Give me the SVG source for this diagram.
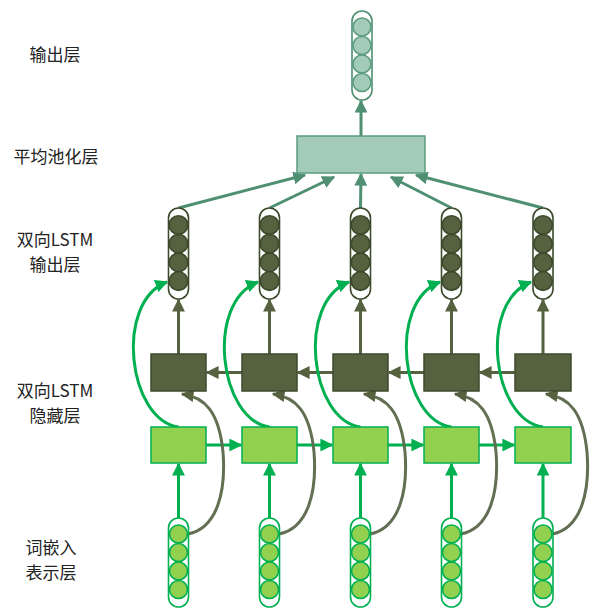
<svg xmlns="http://www.w3.org/2000/svg" width="595" height="609" viewBox="0 0 595 609">
<defs>
<style>
.lbl{font-family:"Noto Sans CJK SC","Liberation Sans",sans-serif;font-size:17px;fill:#222;text-anchor:middle}
.cap{fill:#fff;stroke-width:1.6}
.capIn{stroke:#00b050}.cIn{fill:#92d050;stroke:#00b050;stroke-width:1.6}
.capMid{stroke:#3d4a2c}.cMid{fill:#55613f;stroke:#3d4a2c;stroke-width:1.6}
.capOut{stroke:#4f8f72}.cOut{fill:#a3cbb9;stroke:#5b9c7f;stroke-width:1.6}
.dark{fill:#55613f;stroke:#3d4a2c;stroke-width:1.5}
.light{fill:#92d050;stroke:#00b050;stroke-width:1.5}
.pool{fill:#a3cbb9;stroke:#5b9c7f;stroke-width:1.5}
.eg{stroke:#00b050;stroke-width:3;fill:none;marker-end:url(#ag)}
.ed{stroke:#55613f;stroke-width:3;fill:none;marker-end:url(#ad)}
.edc{stroke:#636f52;stroke-width:3;fill:none;marker-end:url(#ad)}
.et{stroke:#4f8f72;stroke-width:3;fill:none;marker-end:url(#at)}
</style>
<marker id="ag" viewBox="0 0 10 10" refX="9" refY="5" markerWidth="4.3" markerHeight="4.3" orient="auto" markerUnits="strokeWidth"><path d="M0,0L10,5L0,10z" fill="#00b050"/></marker>
<marker id="ad" viewBox="0 0 10 10" refX="9" refY="5" markerWidth="4.3" markerHeight="4.3" orient="auto" markerUnits="strokeWidth"><path d="M0,0L10,5L0,10z" fill="#55613f"/></marker>
<marker id="at" viewBox="0 0 10 10" refX="9" refY="5" markerWidth="4.3" markerHeight="4.3" orient="auto" markerUnits="strokeWidth"><path d="M0,0L10,5L0,10z" fill="#4f8f72"/></marker>
</defs>

<g id="labels">
<text class="lbl" x="55" y="61">输出层</text>
<text class="lbl" x="56" y="163">平均池化层</text>
<text class="lbl" x="55" y="246">双向LSTM</text>
<text class="lbl" x="55" y="271">输出层</text>
<text class="lbl" x="55" y="397">双向LSTM</text>
<text class="lbl" x="55" y="422">隐藏层</text>
<text class="lbl" x="51" y="554">词嵌入</text>
<text class="lbl" x="51" y="579">表示层</text>
</g>

<g id="connectors">
<path class="et" d="M361,136L361,101"/>
<path class="et" d="M178.5,208L305,175"/>
<path class="et" d="M269.5,208L334,177"/>
<path class="et" d="M360.5,208L361,174"/>
<path class="et" d="M451.5,208L391,177"/>
<path class="et" d="M543,208L416,175"/>
<path class="ed" d="M178.5,354L178.5,300"/>
<path class="ed" d="M269.5,354L269.5,300"/>
<path class="ed" d="M360.5,354L360.5,300"/>
<path class="ed" d="M451.5,354L451.5,300"/>
<path class="ed" d="M543,354L543,300"/>
<path class="ed" d="M242,372.5L207,372.5"/>
<path class="ed" d="M333,372.5L298,372.5"/>
<path class="ed" d="M424,372.5L389,372.5"/>
<path class="ed" d="M515,372.5L480,372.5"/>
<path class="eg" d="M206,445L241,445"/>
<path class="eg" d="M297,445L332,445"/>
<path class="eg" d="M388,445L423,445"/>
<path class="eg" d="M479,445L514,445"/>
<path class="eg" d="M178.5,518L178.5,464"/>
<path class="eg" d="M269.5,518L269.5,464"/>
<path class="eg" d="M360.5,518L360.5,464"/>
<path class="eg" d="M451.5,518L451.5,464"/>
<path class="eg" d="M543,518L543,464"/>
<path class="eg" d="M178.5,427C128,420 114,302 167,282"/>
<path class="eg" d="M269.5,427C219,420 205,302 258,282"/>
<path class="eg" d="M360.5,427C310,420 296,302 349,282"/>
<path class="eg" d="M451.5,427C401,420 387,302 440,282"/>
<path class="eg" d="M543,427C492,420 478,302 531,282"/>
<path class="edc" d="M188,534C218,528 226,490 223,452C219,412 205,397 182,394"/>
<path class="edc" d="M279,534C309,528 317,490 314,452C310,412 296,397 273,394"/>
<path class="edc" d="M370,534C400,528 408,490 405,452C401,412 387,397 364,394"/>
<path class="edc" d="M461,534C491,528 499,490 496,452C492,412 478,397 455,394"/>
<path class="edc" d="M552.5,534C582,528 590,490 587,452C583,412 569,397 546,394"/>
</g>

<g id="output">
<rect class="cap capOut" x="352" y="11" width="20" height="89" rx="10"/>
<circle class="cOut" cx="362" cy="27" r="9"/>
<circle class="cOut" cx="362" cy="45.5" r="9"/>
<circle class="cOut" cx="362" cy="64" r="9"/>
<circle class="cOut" cx="362" cy="82.5" r="9"/>
</g>

<g id="pool"><rect class="pool" x="297" y="136" width="128" height="37"/></g>

<g id="bilstm-out">
<g id="bo1"><rect class="cap capMid" x="168.5" y="208" width="20" height="91" rx="10"/><circle class="cMid" cx="178.5" cy="225" r="9.3"/><circle class="cMid" cx="178.5" cy="243.7" r="9.3"/><circle class="cMid" cx="178.5" cy="262.4" r="9.3"/><circle class="cMid" cx="178.5" cy="281.1" r="9.3"/></g>
<g id="bo2"><rect class="cap capMid" x="259.5" y="208" width="20" height="91" rx="10"/><circle class="cMid" cx="269.5" cy="225" r="9.3"/><circle class="cMid" cx="269.5" cy="243.7" r="9.3"/><circle class="cMid" cx="269.5" cy="262.4" r="9.3"/><circle class="cMid" cx="269.5" cy="281.1" r="9.3"/></g>
<g id="bo3"><rect class="cap capMid" x="350.5" y="208" width="20" height="91" rx="10"/><circle class="cMid" cx="360.5" cy="225" r="9.3"/><circle class="cMid" cx="360.5" cy="243.7" r="9.3"/><circle class="cMid" cx="360.5" cy="262.4" r="9.3"/><circle class="cMid" cx="360.5" cy="281.1" r="9.3"/></g>
<g id="bo4"><rect class="cap capMid" x="441.5" y="208" width="20" height="91" rx="10"/><circle class="cMid" cx="451.5" cy="225" r="9.3"/><circle class="cMid" cx="451.5" cy="243.7" r="9.3"/><circle class="cMid" cx="451.5" cy="262.4" r="9.3"/><circle class="cMid" cx="451.5" cy="281.1" r="9.3"/></g>
<g id="bo5"><rect class="cap capMid" x="533" y="208" width="20" height="91" rx="10"/><circle class="cMid" cx="543" cy="225" r="9.3"/><circle class="cMid" cx="543" cy="243.7" r="9.3"/><circle class="cMid" cx="543" cy="262.4" r="9.3"/><circle class="cMid" cx="543" cy="281.1" r="9.3"/></g>
</g>

<g id="hidden-back">
<rect id="hb1" class="dark" x="151" y="354" width="55" height="37"/>
<rect id="hb2" class="dark" x="242" y="354" width="55" height="37"/>
<rect id="hb3" class="dark" x="333" y="354" width="55" height="37"/>
<rect id="hb4" class="dark" x="424" y="354" width="55" height="37"/>
<rect id="hb5" class="dark" x="515" y="354" width="56" height="37"/>
</g>

<g id="hidden-fwd">
<rect id="hf1" class="light" x="151" y="427" width="55" height="36"/>
<rect id="hf2" class="light" x="242" y="427" width="55" height="36"/>
<rect id="hf3" class="light" x="333" y="427" width="55" height="36"/>
<rect id="hf4" class="light" x="424" y="427" width="55" height="36"/>
<rect id="hf5" class="light" x="515" y="427" width="56" height="36"/>
</g>

<g id="inputs">
<g id="in1"><rect class="cap capIn" x="168.5" y="518" width="20" height="89" rx="10"/><circle class="cIn" cx="178.5" cy="534" r="9"/><circle class="cIn" cx="178.5" cy="552.5" r="9"/><circle class="cIn" cx="178.5" cy="571" r="9"/><circle class="cIn" cx="178.5" cy="589.5" r="9"/></g>
<g id="in2"><rect class="cap capIn" x="259.5" y="518" width="20" height="89" rx="10"/><circle class="cIn" cx="269.5" cy="534" r="9"/><circle class="cIn" cx="269.5" cy="552.5" r="9"/><circle class="cIn" cx="269.5" cy="571" r="9"/><circle class="cIn" cx="269.5" cy="589.5" r="9"/></g>
<g id="in3"><rect class="cap capIn" x="350.5" y="518" width="20" height="89" rx="10"/><circle class="cIn" cx="360.5" cy="534" r="9"/><circle class="cIn" cx="360.5" cy="552.5" r="9"/><circle class="cIn" cx="360.5" cy="571" r="9"/><circle class="cIn" cx="360.5" cy="589.5" r="9"/></g>
<g id="in4"><rect class="cap capIn" x="441.5" y="518" width="20" height="89" rx="10"/><circle class="cIn" cx="451.5" cy="534" r="9"/><circle class="cIn" cx="451.5" cy="552.5" r="9"/><circle class="cIn" cx="451.5" cy="571" r="9"/><circle class="cIn" cx="451.5" cy="589.5" r="9"/></g>
<g id="in5"><rect class="cap capIn" x="533" y="518" width="20" height="89" rx="10"/><circle class="cIn" cx="543" cy="534" r="9"/><circle class="cIn" cx="543" cy="552.5" r="9"/><circle class="cIn" cx="543" cy="571" r="9"/><circle class="cIn" cx="543" cy="589.5" r="9"/></g>
</g>
</svg>
